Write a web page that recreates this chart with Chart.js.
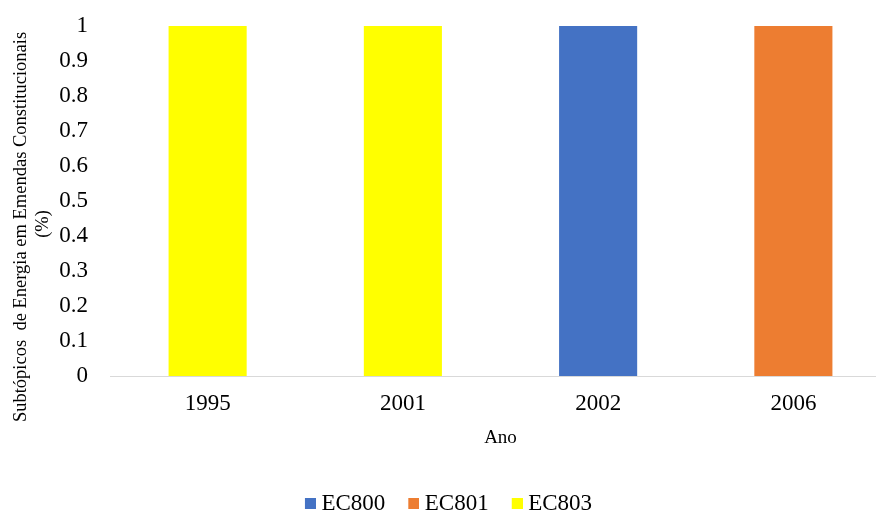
<!DOCTYPE html>
<html lang="pt">
<head>
<meta charset="utf-8">
<title>Subtópicos de Energia em Emendas Constitucionais</title>
<script src="https://cdn.jsdelivr.net/npm/chart.js@4/dist/chart.umd.min.js"></script>
<style>
  html, body { margin: 0; padding: 0; background: #ffffff; overflow: hidden; }
  #wrap { position: relative; width: 902px; height: 525px; }
</style>
</head>
<body>
<div id="wrap"><canvas id="grafico"></canvas></div>
<script>
// Anos e participação de cada emenda constitucional
const anos = ['1995', '2001', '2002', '2006'];
const ec800 = [0, 0, 1, 0];
const ec801 = [0, 0, 0, 1];
const ec803 = [1, 1, 0, 0];
const rotulosY = ['0', '0.1', '0.2', '0.3', '0.4', '0.5', '0.6', '0.7', '0.8', '0.9', '1'];
const tituloY = ['Subtópicos  de Energia em Emendas Constitucionais', '(%)'];
const tituloX = 'Ano';

const fonte = 'Liberation Serif';

// Marcador da legenda: quadrado de 11 px deslocado para perto do texto
function marcador(cor) {
  const c = document.createElement('canvas');
  c.width = 23;
  c.height = 11;
  const g = c.getContext('2d');
  g.fillStyle = cor;
  g.fillRect(12, 0, 11, 11);
  return c;
}

// Título do eixo vertical em duas linhas, girado
const tituloEixoY = {
  id: 'tituloEixoY',
  afterDraw(chart) {
    const ctx = chart.ctx;
    ctx.save();
    ctx.fillStyle = '#000000';
    ctx.font = '18.5px "' + fonte + '"';
    ctx.textAlign = 'center';
    ctx.textBaseline = 'middle';
    const posicoes = [[21, 227], [43, 224]];
    tituloY.forEach((linha, i) => {
      ctx.save();
      ctx.translate(posicoes[i][0], posicoes[i][1]);
      ctx.rotate(-Math.PI / 2);
      ctx.fillText(linha, 0, 0);
      ctx.restore();
    });
    ctx.restore();
  }
};

new Chart(document.getElementById('grafico'), {
  type: 'bar',
  data: {
    labels: anos,
    datasets: [
      { label: 'EC800', data: ec800, backgroundColor: '#4472C4', borderWidth: 0, pointStyle: marcador('#4472C4') },
      { label: 'EC801', data: ec801, backgroundColor: '#ED7D31', borderWidth: 0, pointStyle: marcador('#ED7D31') },
      { label: 'EC803', data: ec803, backgroundColor: '#FFFF00', borderWidth: 0, pointStyle: marcador('#FFFF00') }
    ]
  },
  options: {
    responsive: true,
    maintainAspectRatio: false,
    animation: false,
    devicePixelRatio: 1,
    layout: { padding: { top: 26, right: 11, bottom: 0, left: 0 } },
    datasets: { bar: { categoryPercentage: 1, barPercentage: 0.4 } },
    plugins: {
      tooltip: { enabled: false },
      legend: {
        position: 'bottom',
        labels: {
          usePointStyle: true,
          boxWidth: 11,
          boxHeight: 11,
          padding: 17,
          color: '#000000',
          font: { family: fonte, size: 23 }
        }
      }
    },
    scales: {
      x: {
        stacked: true,
        grid: { display: false, drawTicks: false },
        border: { display: true, color: '#d9d9d9', width: 1 },
        ticks: { color: '#000000', padding: 14, font: { family: fonte, size: 23 } },
        title: {
          display: true,
          text: tituloX,
          color: '#000000',
          padding: { top: 0, bottom: 26 },
          font: { family: fonte, size: 19 }
        },
        afterFit(scale) { scale.height = 99; }
      },
      y: {
        stacked: true,
        min: 0,
        max: 1,
        grid: { display: false, drawTicks: false },
        border: { display: false },
        ticks: {
          stepSize: 0.1,
          color: '#000000',
          padding: 22,
          font: { family: fonte, size: 23 },
          callback: (valor, indice) => rotulosY[indice]
        },
        afterFit(scale) {
          scale.width = 110;
          scale.paddingTop = 0;
          scale.paddingBottom = 0;
        }
      }
    }
  },
  plugins: [tituloEixoY]
});
</script>
</body>
</html>
